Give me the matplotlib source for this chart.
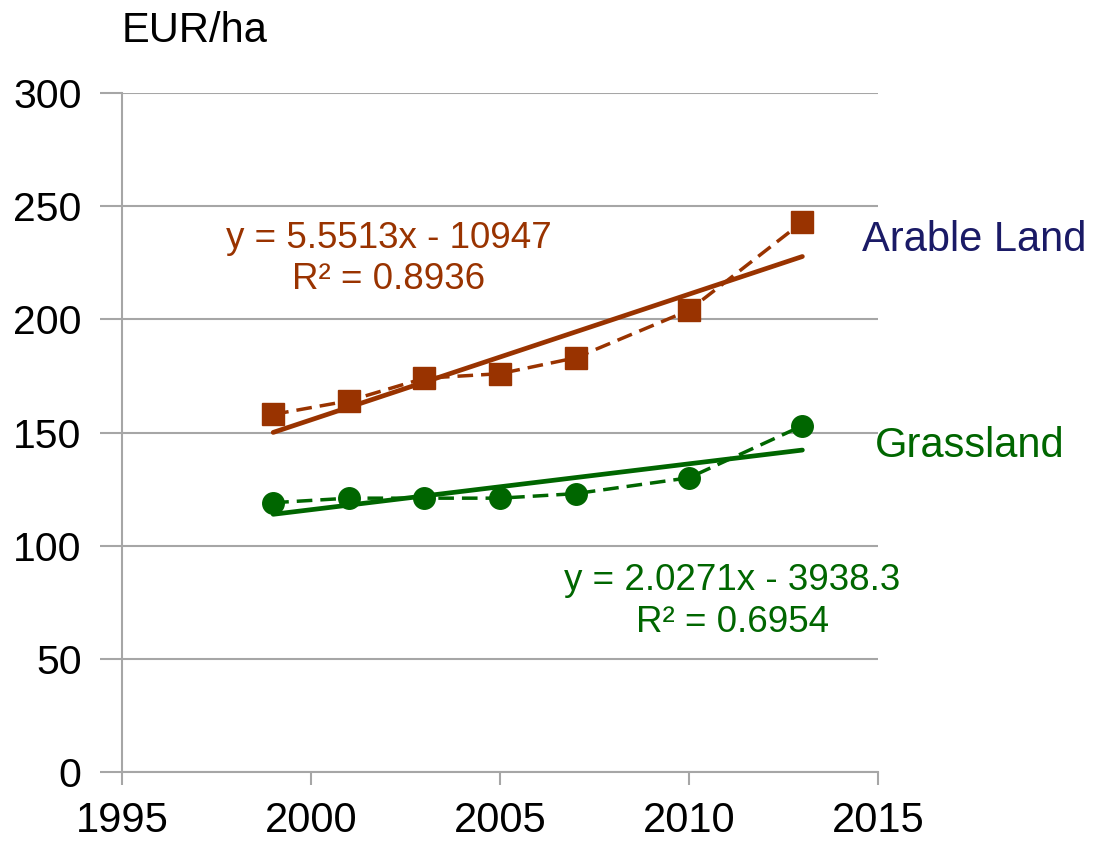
import numpy as np
import matplotlib
matplotlib.use("Agg")
import matplotlib.pyplot as plt

plt.rcParams['font.family'] = ['Liberation Sans', 'DejaVu Sans']

# data
years = [1999, 2001, 2003, 2005, 2007, 2010, 2013]
arable = [158, 164, 174, 176, 183, 204, 243]
grass = [119, 121, 121, 121, 123, 130, 153]

# linear trends as printed on the chart
arable_fit = [5.5513, -10947]
grass_fit = [2.0271, -3938.3]
arable_r2 = 0.8936
grass_r2 = 0.6954

brown = '#993300'
green = '#006600'
navy = '#1a1a66'
grey = '#a6a6a6'

fig = plt.figure(figsize=(10.95, 8.41), dpi=100)
ax = fig.add_axes([0.1114, 0.0820, 0.6904, 0.8074])

x = np.array(years)
ax.plot(x, arable, color=brown, ls=(0, (4.5, 2.3)), lw=2.5, marker='s', ms=15.5, zorder=3)
ax.plot(x, grass, color=green, ls=(0, (4.5, 2.3)), lw=2.5, marker='o', ms=15.5, zorder=3)

xt = np.array([years[0], years[-1]])
ax.plot(xt, np.polyval(arable_fit, xt), color=brown, lw=3.4, solid_capstyle='round', zorder=2)
ax.plot(xt, np.polyval(grass_fit, xt), color=green, lw=3.4, solid_capstyle='round', zorder=2)

ax.set_xlim(1995, 2015)
ax.set_ylim(0, 300)
ax.set_xticks(range(1995, 2016, 5))
ax.set_yticks(range(0, 301, 50))
ax.yaxis.grid(True, color=grey, lw=1.5)
ax.set_axisbelow(True)
for s in ['top', 'right']:
    ax.spines[s].set_visible(False)
for s in ['left', 'bottom']:
    ax.spines[s].set_color(grey)
    ax.spines[s].set_linewidth(1.5)
ax.tick_params(axis='y', direction='out', length=16, width=1.5, color=grey, pad=13, labelsize=29.5)
ax.tick_params(axis='x', direction='out', length=9, width=1.5, color=grey, pad=12, labelsize=30)

def eq_text(fit, r2):
    sign = '-' if fit[1] < 0 else '+'
    return 'y = %gx %s %g\nR² = %.4f' % (fit[0], sign, abs(fit[1]), r2)

ax.text(2002.06, 226.7, eq_text(arable_fit, arable_r2), color=brown, fontsize=26.5,
        ha='center', va='center', multialignment='center', linespacing=1.25)
ax.text(2011.14, 75.3, eq_text(grass_fit, grass_r2), color=green, fontsize=26.5,
        ha='center', va='center', multialignment='center', linespacing=1.25)

ax.text(1995 + (862 - 122) / 37.8, 235, 'Arable Land', color=navy, fontsize=30,
        ha='left', va='center', clip_on=False)
ax.text(1995 + (875 - 122) / 37.8, 144, 'Grassland', color=green, fontsize=30,
        ha='left', va='center', clip_on=False)

fig.text(122 / 1095, 1 - 42 / 841, 'EUR/ha', fontsize=30, ha='left', va='baseline')

fig.savefig('out.png', dpi=100)
